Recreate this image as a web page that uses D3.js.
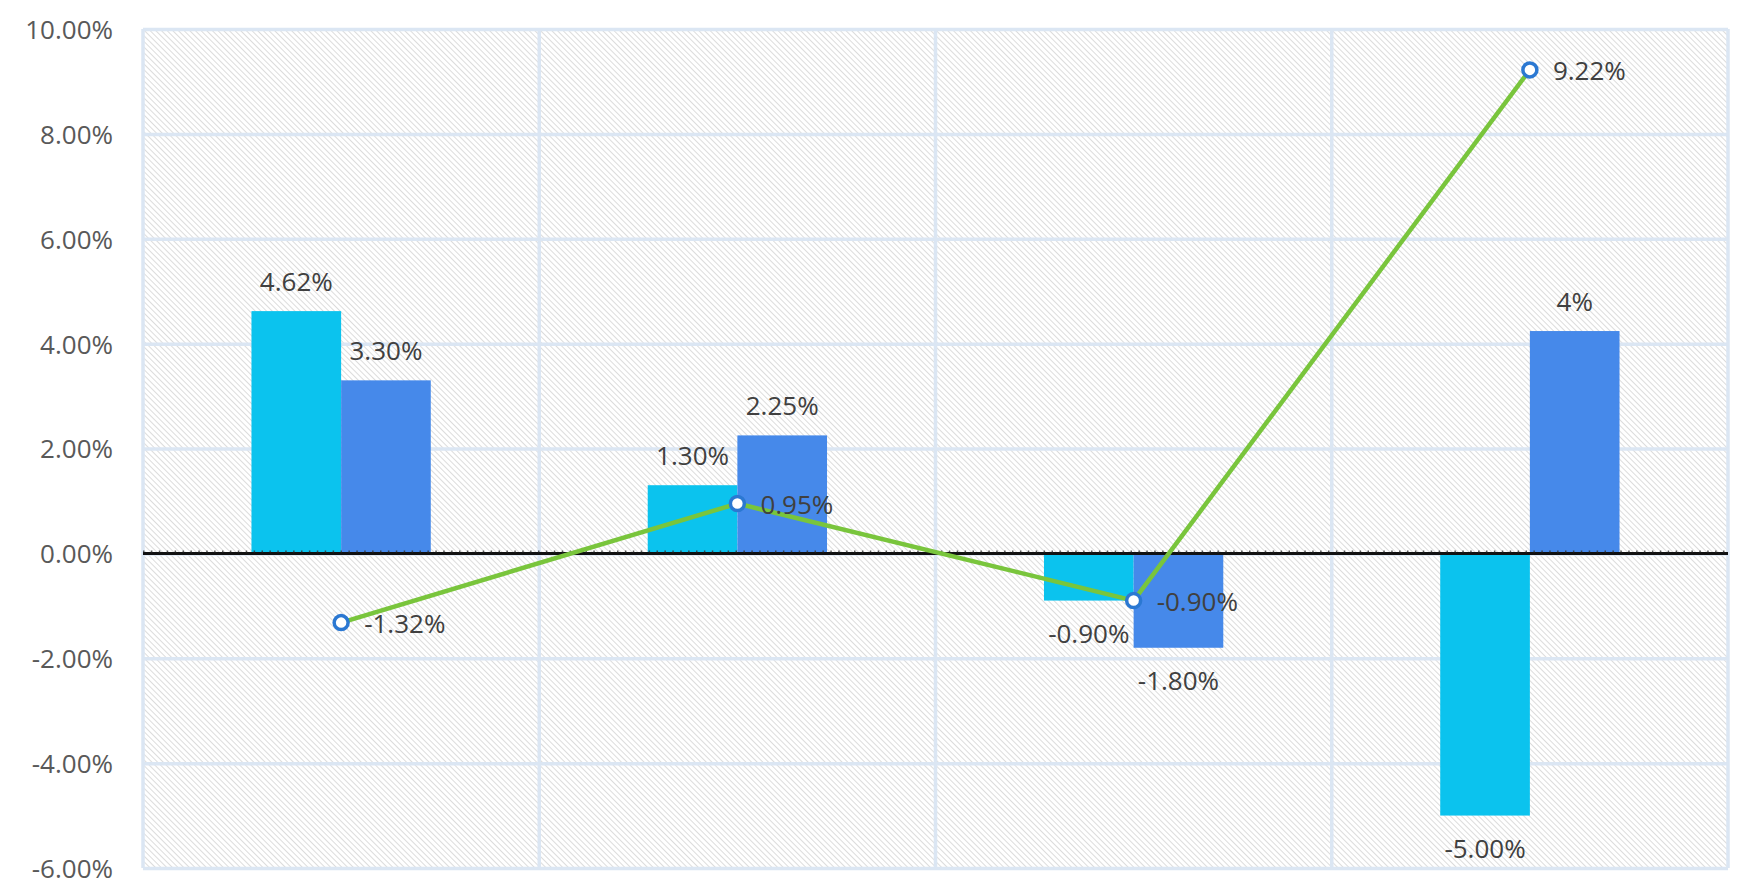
<!DOCTYPE html>
<html>
<head>
<meta charset="utf-8">
<script src="https://cdn.jsdelivr.net/npm/d3@7"></script>
<style>
  html, body { margin: 0; padding: 0; background: #ffffff; }
  svg { display: block; }
  text { font-family: "Open Sans", "Noto Sans", sans-serif; }
</style>
</head>
<body>
<svg id="chart" width="1743" height="879"></svg>
<script>
// ---- data ----
const categories = ["Q1", "Q2", "Q3", "Q4"];
const seriesNames = ["Series A", "Series B"];
const seriesA = [4.62, 1.30, -0.90, -5.00];
const seriesB = [3.30, 2.25, -1.80, 4.24];
const seriesALabels = ["4.62%", "1.30%", "-0.90%", "-5.00%"];
const seriesBLabels = ["3.30%", "2.25%", "-1.80%", "4%"];
const lineValues = [-1.32, 0.95, -0.90, 9.22];
const lineLabels = ["-1.32%", "0.95%", "-0.90%", "9.22%"];
const yTicks = [10, 8, 6, 4, 2, 0, -2, -4, -6];

// ---- layout ----
const W = 1743, H = 879;
const plot = { left: 143, right: 1728, top: 29, bottom: 868 };
const colors = { a: "#0bc3ee", b: "#4689ea", line: "#79c53c", marker: "#2b78d2" };

const svg = d3.select("#chart");
const defs = svg.append("defs");
const pat = defs.append("pattern")
  .attr("id", "hatch").attr("patternUnits", "userSpaceOnUse")
  .attr("width", 4).attr("height", 4)
  .attr("patternTransform", "rotate(-45)");
pat.append("rect").attr("width", 4).attr("height", 4).attr("fill", "#ffffff");
pat.append("line").attr("x1", 0.5).attr("y1", 0).attr("x2", 0.5).attr("y2", 4)
  .attr("stroke", "#dcdcdc").attr("stroke-width", 1);

const x = d3.scaleBand().domain(categories).range([plot.left, plot.right]).paddingInner(0).paddingOuter(0);
const bw = x.bandwidth();
const groupW = bw * 0.4525;
const x1 = d3.scaleBand().domain(seriesNames).range([bw / 2 - groupW / 2, bw / 2 + groupW / 2]).padding(0);
const y = d3.scaleLinear().domain([-6, 10]).range([plot.bottom, plot.top]);

// background
svg.append("rect").attr("x", plot.left).attr("y", plot.top)
  .attr("width", plot.right - plot.left).attr("height", plot.bottom - plot.top)
  .attr("fill", "url(#hatch)");

// horizontal grid
const gridColor = "#dbe6f3";
svg.append("g").attr("transform", `translate(${plot.left},0)`)
  .call(d3.axisLeft(y).tickValues(yTicks).tickSize(-(plot.right - plot.left)).tickFormat(""))
  .call(g => g.select(".domain").remove())
  .call(g => g.selectAll("line").attr("stroke", gridColor).attr("stroke-width", 3.5));

// vertical grid (category boundaries)
const boundaries = categories.map(c => x(c)).concat([plot.right]);
svg.append("g").selectAll("line").data(boundaries).join("line")
  .attr("x1", d => d).attr("x2", d => d)
  .attr("y1", plot.top).attr("y2", plot.bottom)
  .attr("stroke", gridColor).attr("stroke-width", 3.5);

// y axis labels
svg.append("g").attr("transform", `translate(113,0)`)
  .call(d3.axisLeft(y).tickValues(yTicks).tickSize(0).tickPadding(0).tickFormat(d => d.toFixed(2) + "%"))
  .call(g => g.select(".domain").remove())
  .call(g => g.selectAll("text").attr("fill", "#595959").attr("font-size", 26)
    .attr("font-family", "'Open Sans', 'Noto Sans', sans-serif").attr("dy", "0.36em"));

// bars
const barData = [];
categories.forEach((c, i) => {
  barData.push({ c, s: seriesNames[0], v: seriesA[i], label: seriesALabels[i], color: colors.a });
  barData.push({ c, s: seriesNames[1], v: seriesB[i], label: seriesBLabels[i], color: colors.b });
});
svg.append("g").selectAll("rect").data(barData).join("rect")
  .attr("x", d => x(d.c) + x1(d.s))
  .attr("width", x1.bandwidth())
  .attr("y", d => y(Math.max(0, d.v)))
  .attr("height", d => Math.abs(y(d.v) - y(0)))
  .attr("fill", d => d.color);

// zero line with minor tick dots
svg.append("line").attr("x1", plot.left).attr("x2", plot.right)
  .attr("y1", y(0)).attr("y2", y(0)).attr("stroke", "#111111").attr("stroke-width", 3);
svg.append("line").attr("x1", plot.left).attr("x2", plot.right)
  .attr("y1", y(0) - 2).attr("y2", y(0) - 2).attr("stroke", "#333333")
  .attr("stroke-width", 2).attr("stroke-dasharray", "1.5,6.4").attr("opacity", 0.8);

// bar labels
svg.append("g").selectAll("text").data(barData).join("text")
  .attr("x", d => x(d.c) + x1(d.s) + x1.bandwidth() / 2)
  .attr("y", d => d.v >= 0 ? y(d.v) - 20 : y(d.v) + 42)
  .attr("text-anchor", "middle")
  .attr("font-size", 26).attr("fill", "#404040")
  .text(d => d.label);

// line
const cx = c => x(c) + bw / 2;
const lineGen = d3.line().x((d, i) => cx(categories[i])).y(d => y(d));
svg.append("path").datum(lineValues).attr("d", lineGen)
  .attr("fill", "none").attr("stroke", colors.line).attr("stroke-width", 4.5)
  .attr("stroke-linejoin", "round");
svg.append("g").selectAll("circle").data(lineValues).join("circle")
  .attr("cx", (d, i) => cx(categories[i])).attr("cy", d => y(d))
  .attr("r", 7).attr("fill", "#ffffff").attr("stroke", colors.marker).attr("stroke-width", 3.5);
svg.append("g").selectAll("text").data(lineValues).join("text")
  .attr("x", (d, i) => cx(categories[i]) + 23)
  .attr("y", d => y(d) + 10)
  .attr("font-size", 26).attr("fill", "#404040")
  .text((d, i) => lineLabels[i]);
</script>
</body>
</html>
